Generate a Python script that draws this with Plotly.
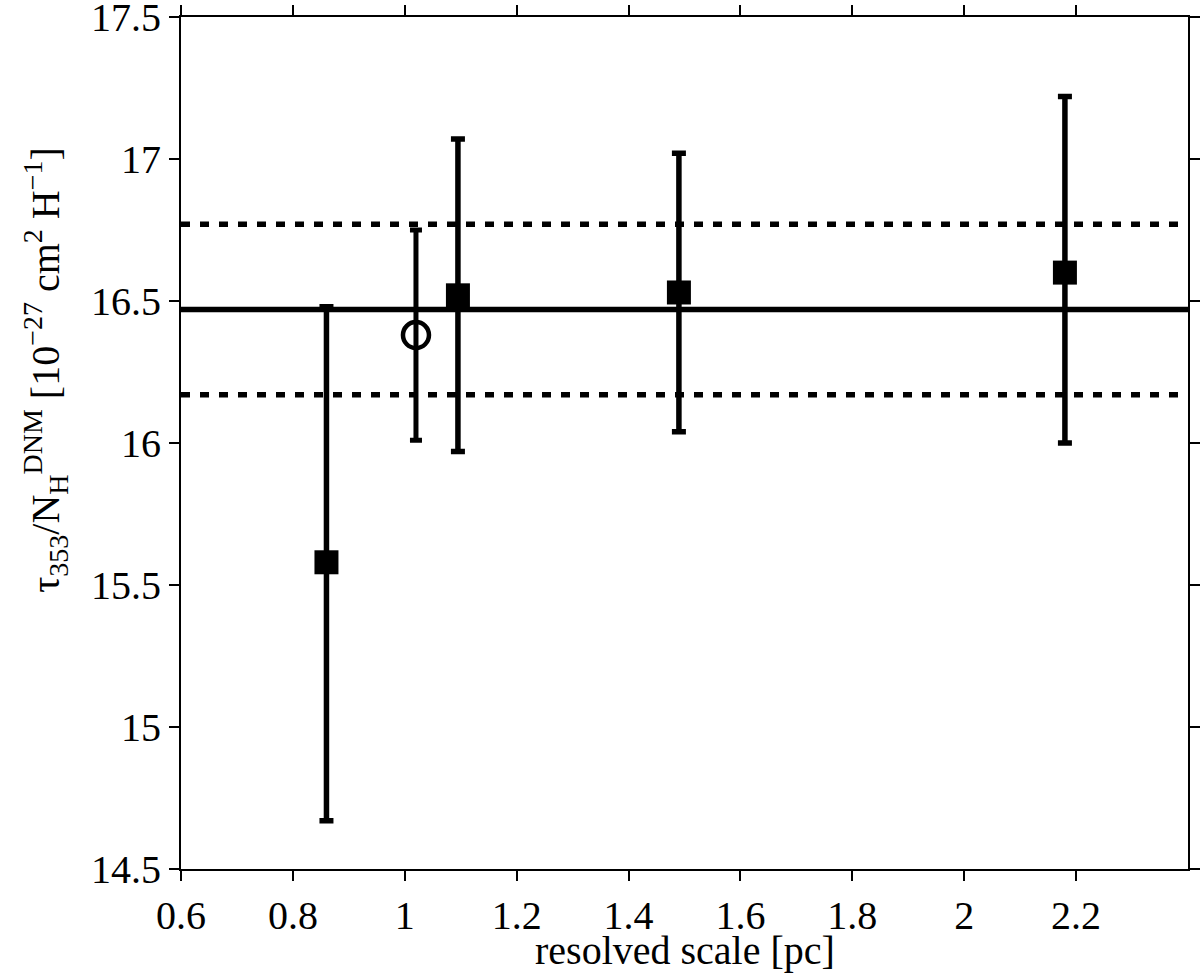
import plotly.graph_objects as go

# resolved scale [pc] and tau353/NH(DNM) ratios [1e-27 cm2 H-1]
scale_pc = [0.86, 1.095, 1.49, 2.18]
ratio = [15.58, 16.52, 16.53, 16.60]
ratio_hi = [16.48, 17.07, 17.02, 17.22]
ratio_lo = [14.67, 15.97, 16.04, 16.00]

# the open-circle point
scale_open = [1.02]
ratio_open = [16.38]
ratio_open_hi = [16.75]
ratio_open_lo = [16.01]

# mean and its spread
mean_ratio = 16.47
mean_hi = 16.77
mean_lo = 16.17

x_range = [0.6, 2.4]
x_ticks = [0.6, 0.8, 1.0, 1.2, 1.4, 1.6, 1.8, 2.0, 2.2]
x_ticktext = ["0.6", "0.8", "1", "1.2", "1.4", "1.6", "1.8", "2", "2.2"]
y_ticks = [14.5, 15, 15.5, 16, 16.5, 17, 17.5]
y_ticktext = ["14.5", "15", "15.5", "16", "16.5", "17", "17.5"]

FONT = "Liberation Serif"

fig = go.Figure()

# mean line and dashed limits
fig.add_trace(go.Scatter(
    x=x_range, y=[mean_ratio, mean_ratio], mode="lines",
    line=dict(color="black", width=5.5), showlegend=False, hoverinfo="skip"
))
for lvl in (mean_hi, mean_lo):
    fig.add_trace(go.Scatter(
        x=x_range, y=[lvl, lvl], mode="lines",
        line=dict(color="black", width=5.5, dash="9px,10px"),
        showlegend=False, hoverinfo="skip"
    ))

# filled squares
fig.add_trace(go.Scatter(
    x=scale_pc, y=ratio, mode="markers",
    marker=dict(symbol="square", size=24, color="black"),
    error_y=dict(
        type="data", symmetric=False,
        array=[h - v for h, v in zip(ratio_hi, ratio)],
        arrayminus=[v - l for l, v in zip(ratio_lo, ratio)],
        color="black", thickness=5.5, width=7
    ),
    showlegend=False
))

# open circle
fig.add_trace(go.Scatter(
    x=scale_open, y=ratio_open, mode="markers",
    marker=dict(symbol="circle-open", size=26, color="black", line=dict(width=4.5)),
    error_y=dict(
        type="data", symmetric=False,
        array=[h - v for h, v in zip(ratio_open_hi, ratio_open)],
        arrayminus=[v - l for l, v in zip(ratio_open_lo, ratio_open)],
        color="black", thickness=5, width=6
    ),
    showlegend=False
))

axis_common = dict(
    showline=True, linecolor="black", linewidth=2, mirror="ticks",
    ticks="outside", ticklen=10, tickwidth=2, tickcolor="black",
    showgrid=False, zeroline=False, automargin=False,
    ticklabeloverflow="allow",
    tickfont=dict(family=FONT, size=40, color="black"),
)

fig.update_layout(
    width=1200, height=976,
    paper_bgcolor="white", plot_bgcolor="white",
    margin=dict(l=181, r=12, t=17, b=107),
    font=dict(family=FONT, color="black"),
    xaxis=dict(
        range=x_range, tickvals=x_ticks, ticktext=x_ticktext,
        **axis_common
    ),
    yaxis=dict(
        range=[y_ticks[0], y_ticks[-1]], tickvals=y_ticks, ticktext=y_ticktext,
        **axis_common
    ),
)

fig.add_annotation(
    text="resolved scale [pc]",
    xref="paper", yref="paper", x=0.5, y=-0.124,
    xanchor="center", yanchor="bottom", showarrow=False,
    font=dict(family=FONT, size=40, color="black")
)

fig.add_annotation(
    text="τ<sub>353</sub>/N<sub>H</sub><sup>DNM</sup> [10<sup>−27</sup> cm<sup>2</sup> H<sup>−1</sup>]",
    xref="paper", yref="paper", x=-0.135, y=0.586,
    xanchor="center", yanchor="middle", textangle=-90, showarrow=False,
    font=dict(family=FONT, size=40, color="black")
)

# drop the default page margin so the figure sits at the window's corner
fig.write_html(
    "out.html",
    config={"displayModeBar": False},
    post_script="document.body.style.margin='0';",
)
